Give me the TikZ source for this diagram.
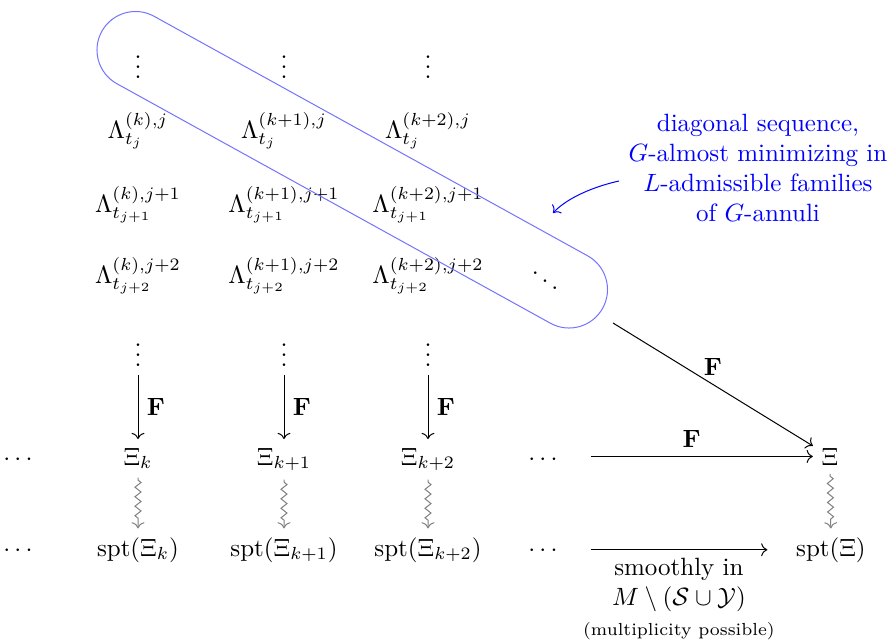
\documentclass[tikz,border=0pt]{standalone}
\usepackage{amsmath,amssymb}
\usepackage{tikz}
\usetikzlibrary{calc,positioning,arrows.meta,decorations.pathmorphing}

\begin{document}
\begin{tikzpicture}[x=0.4pt,y=-0.4pt,>={Computer Modern Rightarrow},
  cell/.style={anchor=base},
  squig/.style={->,gray,decorate,decoration={zigzag,amplitude=1.2pt,segment length=3.8pt,pre length=1pt,post length=2.5pt}},
  blob/.style={draw=blue!55,rounded corners=15.4pt}]
  \useasboundingbox (0,0) rectangle (894,642);
  \foreach \x/\n/\s in {138/a/k,284/b/k+1,428/c/k+2}{
    \node[cell] (top\n) at (\x,78) {$\vdots$};
    \node[cell] (L\n0) at (\x,138) {$\Lambda^{(\s),j}_{t_j}$};
    \node[cell] (L\n1) at (\x,212) {$\Lambda^{(\s),j+1}_{t_{j+1}}$};
    \node[cell] (L\n2) at (\x,283) {$\Lambda^{(\s),j+2}_{t_{j+2}}$};
    \node[cell] (bot\n) at (\x,366) {$\vdots$};
    \node[cell] (X\n) at (\x,465) {$\Xi_{\s}$};
    \node[cell] (S\n) at (\x,556) {$\operatorname{spt}(\Xi_{\s})$};
    \draw[->] (bot\n) -- node[right] {$\mathbf{F}$} (X\n);
    \draw[squig] (X\n) -- (S\n);
  }
  \node[cell] (ldX) at (20,465) {$\cdots$};
  \node[cell] (ldS) at (20,556) {$\cdots$};
  \node[cell] (rdX) at (545,465) {$\cdots$};
  \node[cell] (rdS) at (545,556) {$\cdots$};
  \node[cell] (dd) at (545,292) {$\ddots$};
  \node[cell] (Xi) at (830,465) {$\Xi$};
  \node[cell] (SXi) at (831,556) {$\operatorname{spt}(\Xi)$};
  \draw[squig] (Xi) -- (SXi);

  % limits
  \draw[->,shorten <=8pt] (rdX.east |- Xi.west) -- node[above] {$\mathbf{F}$} (Xi.west);
  \draw[->,shorten <=8pt,shorten >=8pt] (rdS.east |- SXi.west) -- (SXi.west)
    node[midway,below,align=center] {smoothly in\\ $M\setminus(\mathcal{S}\cup\mathcal{Y})$\\ {\scriptsize (multiplicity possible)}};
  \coordinate (dstart) at (613,323);
  \draw[->] (dstart) -- node[above] {$\mathbf{F}$} (Xi);

  % diagonal sequence
  \draw[blob,rotate around={-28.92:(352.25,169.75)}] (66.1,131.25) rectangle (638.4,208.25);
  \node[blue,align=center,anchor=north] (note) at (758,105) {diagonal sequence,\\ $G$-almost minimizing in\\ $L$-admissible families\\ of $G$-annuli};
  \coordinate (ntail) at (619,181);
  \coordinate (nhead) at (553,213);
  \draw[->,blue] (ntail) .. controls (596,186) and (568,197) .. (nhead);
\end{tikzpicture}
\end{document}
